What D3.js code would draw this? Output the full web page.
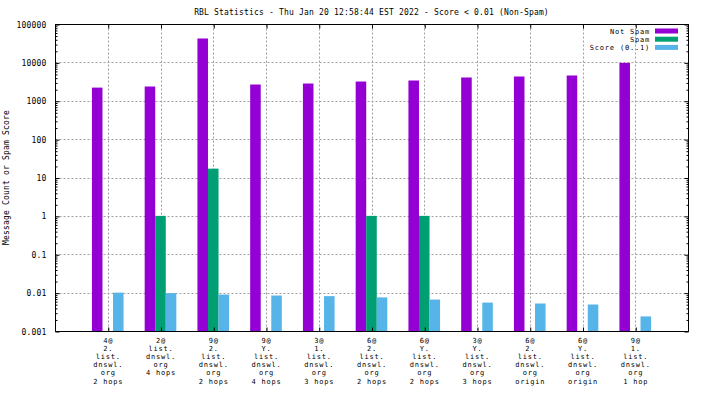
<!DOCTYPE html>
<html>
<head>
<meta charset="utf-8">
<script src="https://cdn.jsdelivr.net/npm/d3@7"></script>
<style>
  body { margin: 0; background: #fff; }
  text { font-family: "DejaVu Sans Mono", monospace; font-size: 8px; letter-spacing: 0.18px; fill: #000; }
  text.small { font-size: 7px; letter-spacing: 0.8px; }
</style>
</head>
<body>
<div id="chart"></div>
<script>
// category labels (one entry per line)
const categories = [
  ['4@', '2.', 'list.', 'dnswl.', 'org', '2 hops'],
  ['2@', 'list.', 'dnswl.', 'org', '4 hops'],
  ['9@', '2.', 'list.', 'dnswl.', 'org', '2 hops'],
  ['9@', 'Y.', 'list.', 'dnswl.', 'org', '4 hops'],
  ['3@', '1.', 'list.', 'dnswl.', 'org', '3 hops'],
  ['6@', '2.', 'list.', 'dnswl.', 'org', '2 hops'],
  ['6@', 'Y.', 'list.', 'dnswl.', 'org', '2 hops'],
  ['3@', 'Y.', 'list.', 'dnswl.', 'org', '3 hops'],
  ['6@', '2.', 'list.', 'dnswl.', 'org', 'origin'],
  ['6@', 'Y.', 'list.', 'dnswl.', 'org', 'origin'],
  ['9@', '1.', 'list.', 'dnswl.', 'org', '1 hop']
];
const notSpam = [2200, 2350, 41900, 2650, 2810, 3170, 3370, 4040, 4290, 4550, 9700];
const spam = [0, 1, 17, 0, 0, 1, 1, 0, 0, 0, 0];
const score = [0.0100, 0.0097, 0.0089, 0.0084, 0.0081, 0.0075, 0.0066, 0.0055, 0.0052, 0.0049, 0.0024];

const seriesNames = ['Not Spam', 'Spam', 'Score (0..1)'];
const colors = ['#9400d3', '#009e73', '#56b4e9'];
const yTicks = [0.001, 0.01, 0.1, 1, 10, 100, 1000, 10000, 100000];

const title = 'RBL Statistics - Thu Jan 20 12:58:44 EST 2022 - Score < 0.01 (Non-Spam)';
const yTitle = 'Message Count or Spam Score';

const W = 704, H = 396;
const margin = { top: 24, right: 16, bottom: 65, left: 55 };
const width = W - margin.left - margin.right;
const height = H - margin.top - margin.bottom;
const lineH = 8.2;

const x = d3.scaleLinear().domain([-1, categories.length]).range([0, width]);
const y = d3.scaleLog().domain([0.001, 100000]).range([height, 0]);

const svg = d3.select('#chart').append('svg')
  .attr('width', W)
  .attr('height', H);

const g = svg.append('g')
  .attr('transform', `translate(${margin.left + 0.5}, ${margin.top + 0.5})`);

// grid
const catIdx = d3.range(categories.length);
g.append('g').selectAll('line.v')
  .data(catIdx)
  .join('line')
  .attr('x1', (d) => Math.round(x(d)))
  .attr('x2', (d) => Math.round(x(d)))
  .attr('y1', 0).attr('y2', height)
  .attr('stroke', '#a0a0a0').attr('stroke-dasharray', '2,2');

g.append('g').selectAll('line.h')
  .data(yTicks.slice(1, -1))
  .join('line')
  .attr('x1', 0).attr('x2', width)
  .attr('y1', (d) => Math.round(y(d)))
  .attr('y2', (d) => Math.round(y(d)))
  .attr('stroke', '#a0a0a0').attr('stroke-dasharray', '2,2');

// bars
const series = [notSpam, spam, score];
const bw = x(0.2) - x(0);
series.forEach((vals, si) => {
  g.append('g').selectAll('rect')
    .data(vals.map((v, i) => ({ v, i })).filter((d) => d.v > 0))
    .join('rect')
    .attr('x', (d) => x(d.i + (si - 1) * 0.2) - bw / 2 - 0.5)
    .attr('width', bw)
    .attr('y', (d) => y(d.v) - 0.5)
    .attr('height', (d) => height - y(d.v))
    .attr('fill', colors[si]);
});

// minor log ticks
const minor = [];
yTicks.slice(0, -1).forEach((t) => {
  for (let k = 2; k <= 9; k++) minor.push(t * k);
});

const yl = g.append('g')
  .call(d3.axisLeft(y).tickValues(yTicks).tickFormat((d) => String(d)).tickSize(-4).tickPadding(9));
g.append('g').call(d3.axisLeft(y).tickValues(minor).tickFormat('').tickSize(-2));
g.append('g').attr('transform', `translate(${width}, 0)`)
  .call(d3.axisRight(y).tickValues(yTicks).tickFormat('').tickSize(-4));
g.append('g').attr('transform', `translate(${width}, 0)`)
  .call(d3.axisRight(y).tickValues(minor).tickFormat('').tickSize(-2));

g.append('g')
  .call(d3.axisTop(x).tickValues(catIdx).tickFormat('').tickSize(-4));
g.append('g').attr('transform', `translate(0, ${height})`)
  .call(d3.axisBottom(x).tickValues(catIdx).tickFormat('').tickSize(-4));

// frame
g.append('rect')
  .attr('width', width).attr('height', height)
  .attr('fill', 'none').attr('stroke', '#000');

g.selectAll('.domain').remove();
g.selectAll('.tick line').attr('stroke', '#000');
yl.selectAll('text').attr('font-family', null).attr('font-size', null).attr('dy', '0.32em');

// category labels
g.append('g').selectAll('text.cat')
  .data(categories)
  .join('text')
  .attr('class', 'small')
  .attr('text-anchor', 'middle')
  .attr('transform', (d, i) => `translate(${x(i)}, ${height + 11})`)
  .selectAll('tspan')
  .data((d) => d)
  .join('tspan')
  .attr('x', 0)
  .attr('y', (d, k) => k * lineH)
  .text((d) => d);

// title
svg.append('text')
  .attr('x', margin.left + width / 2)
  .attr('y', 15)
  .attr('text-anchor', 'middle')
  .text(title);

// y axis title
svg.append('text')
  .attr('transform', `translate(9, ${margin.top + height / 2}) rotate(-90)`)
  .attr('text-anchor', 'middle')
  .text(yTitle);

// legend
const legend = svg.append('g').attr('transform', 'translate(650, 31)');
seriesNames.forEach((name, i) => {
  legend.append('text')
    .attr('class', 'small')
    .attr('x', 0).attr('y', i * lineH + 2.5)
    .attr('text-anchor', 'end')
    .text(name);
  legend.append('rect')
    .attr('x', 5).attr('y', i * lineH - 2.5)
    .attr('width', 23).attr('height', 5)
    .attr('fill', colors[i]);
});
</script>
</body>
</html>
